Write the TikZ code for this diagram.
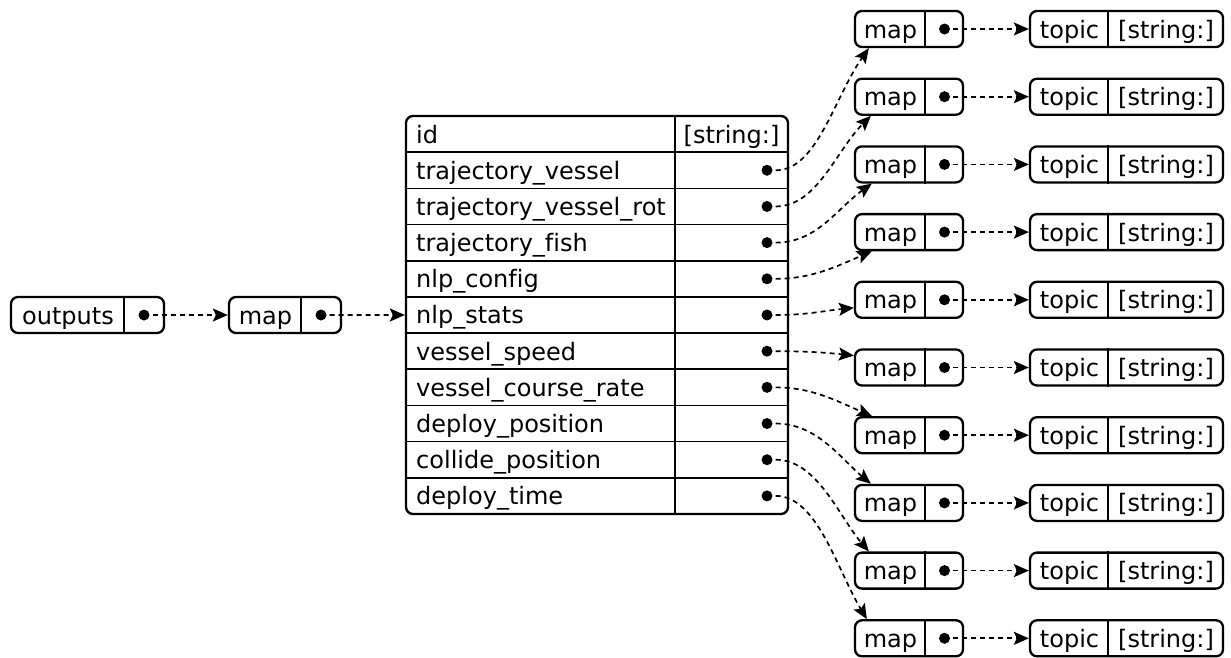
\documentclass[tikz,border=0pt]{standalone}
\usepackage{fontspec}
\setmainfont{DejaVu Sans}[Ligatures=NoCommon]
\usetikzlibrary{arrows.meta,positioning}
\tikzset{rec/.style={draw,line width=2.3pt,rounded corners=7pt,inner sep=0pt,minimum height=36pt},
  lbl/.style={inner sep=0pt,font=\fontsize{24pt}{28pt}\selectfont,text height=21.6pt,text depth=3.6pt},
  port/.style={circle,fill,inner sep=0pt,minimum size=11pt},
  sep/.style={line width=1.6pt},
  link/.style={line width=1.7pt,dash pattern=on 5pt off 4pt,shorten <=3pt,-{Stealth[length=15pt,width=13pt,inset=3pt]}}}

\begin{document}
\begin{tikzpicture}[x=1pt,y=-1pt]
\useasboundingbox (0,0) rectangle (1231,657);

\node[rec,minimum width=153pt] (out) at (87.5,315) {};
\draw[sep] ([xshift=114pt]out.north west) -- ([xshift=114pt]out.south west);
\node[lbl] (outtxt) at (68,315) {outputs};
\node[port] (outdot) at (144,315) {};

\node[rec,minimum width=112pt] (lm) at (285,315) {};
\draw[sep] ([xshift=73pt]lm.north west) -- ([xshift=73pt]lm.south west);
\node[lbl] (lmtxt) at (265.5,315) {map};
\node[port] (lmdot) at (321,315) {};

\foreach \i in {1,...,10}
         {
           \draw[sep] (406,{116+36.18*\i}) -- (788,{116+36.18*\i});
         }
\draw[sep] (675,116) -- (675,514);
\node[rec,minimum width=382pt,minimum height=398pt] (tbl) at (597,315) {};

\foreach \fname [count=\i] in {id,trajectory\_vessel,trajectory\_vessel\_rot,trajectory\_fish,nlp\_config,nlp\_stats,vessel\_speed,vessel\_course\_rate,deploy\_position,collide\_position,deploy\_time}
         {
           \node[lbl,anchor=west] (f\i) at (416,{116+36.18*(\i-0.5)}) {\fname};
         }
\node[lbl] (idtype) at (731.5,{116+36.18*0.5}) {[string:]};
\foreach \i in {2,...,11}
         {
           \node[port] (p\i) at (767,{116+36.18*(\i-0.5)}) {};
         }

\foreach \k in {1,...,10}
         {
           \pgfmathsetmacro\yk{29+67.7*(\k-1)}
           \node[rec,minimum width=108pt] (m\k) at (909,\yk) {};
           \draw[sep] ([xshift=71pt]m\k.north west) -- ([xshift=71pt]m\k.south west);
           \node[lbl] (mtxt\k) at (890.5,\yk) {map};
           \node[port] (md\k) at (944.5,\yk) {};
           \node[rec,minimum width=193pt] (t\k) at (1126.5,\yk) {};
           \draw[sep] ([xshift=79pt]t\k.north west) -- ([xshift=79pt]t\k.south west);
           \node[lbl] (ttxt\k) at (1069.5,\yk) {topic};
           \node[lbl] (ttype\k) at (1166,\yk) {[string:]};
           \draw[link] (md\k) -- (t\k);
         }

\draw[link] (outdot) -- (lm);
\draw[link] (lmdot) -- (tbl.west |- p6);

\draw[link] (p2) .. controls +(50,0) and +(-35,50) .. ([xshift=15pt]m1.south west);
\draw[link] (p3) .. controls +(50,0) and +(-35,35) .. ([xshift=17pt]m2.south west);
\draw[link] (p4) .. controls +(50,0) and +(-35,25) .. ([xshift=18pt]m3.south west);
\draw[link] (p5) .. controls +(45,0) and +(-35,15) .. ([xshift=18pt]m4.south west);
\draw[link] (p6) .. controls +(40,0) and +(-30,3) .. ([yshift=-8pt]m5.west);
\draw[link] (p7) .. controls +(40,0) and +(-30,-3) .. ([yshift=12pt]m6.west);
\draw[link] (p8) .. controls +(45,0) and +(-35,-15) .. ([xshift=18pt]m7.north west);
\draw[link] (p9) .. controls +(50,0) and +(-30,-25) .. ([xshift=17pt]m8.north west);
\draw[link] (p10) .. controls +(50,0) and +(-30,-35) .. ([xshift=15pt]m9.north west);
\draw[link] (p11) .. controls +(50,0) and +(-30,-50) .. ([xshift=13pt]m10.north west);

\end{tikzpicture}
\end{document}
